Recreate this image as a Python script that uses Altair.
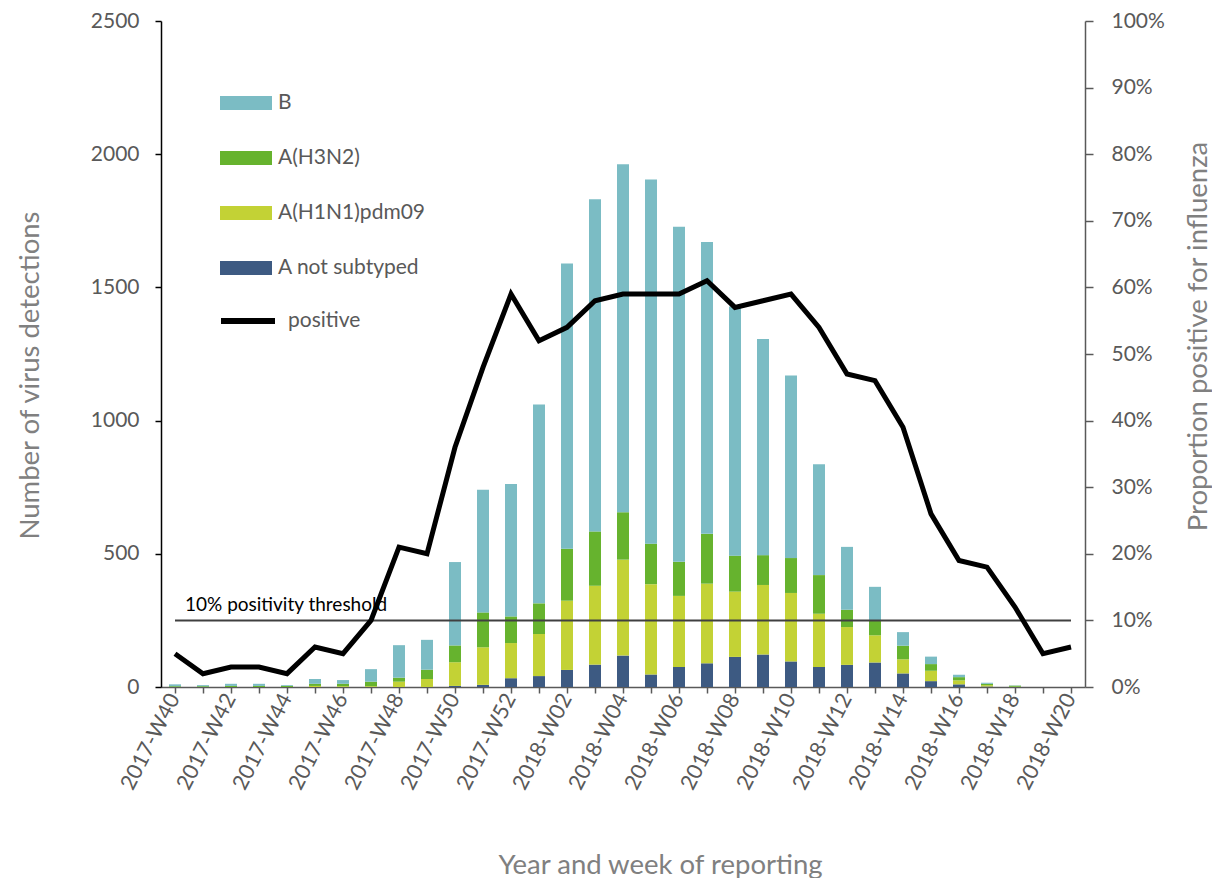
import altair as alt
import pandas as pd

weeks = [
    "2017-W40", "2017-W41", "2017-W42", "2017-W43", "2017-W44", "2017-W45",
    "2017-W46", "2017-W47", "2017-W48", "2017-W49", "2017-W50", "2017-W51",
    "2017-W52", "2018-W01", "2018-W02", "2018-W03", "2018-W04", "2018-W05",
    "2018-W06", "2018-W07", "2018-W08", "2018-W09", "2018-W10", "2018-W11",
    "2018-W12", "2018-W13", "2018-W14", "2018-W15", "2018-W16", "2018-W17",
    "2018-W18", "2018-W19", "2018-W20",
]
a_not_subtyped = [0, 0, 0, 0, 0, 0, 0, 0, 0, 0, 4, 8, 33, 41, 64, 84, 118, 47,
                  75, 89, 113, 122, 96, 75, 83, 92, 51, 22, 10, 2, 0, 0, 0]
a_h1n1pdm09 = [0, 0, 0, 0, 0, 4, 3, 3, 20, 30, 89, 141, 132, 158, 260, 296, 360,
               339, 267, 299, 245, 261, 257, 200, 142, 102, 53, 39, 15, 5, 1, 0, 0]
a_h3n2 = [3, 3, 4, 4, 4, 8, 9, 17, 15, 35, 63, 131, 100, 115, 195, 204, 178, 152,
          128, 187, 135, 112, 131, 145, 65, 55, 51, 25, 12, 5, 4, 0, 0]
b_vals = [7, 4, 8, 8, 3, 18, 14, 47, 122, 112, 313, 460, 497, 746, 1071, 1247,
          1306, 1367, 1258, 1095, 935, 811, 685, 416, 236, 127, 51, 28, 9, 4, 1, 0, 0]
positive_pct = [5, 2, 3, 3, 2, 6, 5, 10, 21, 20, 36, 48, 59, 52, 54, 58, 59, 59,
                59, 61, 57, 58, 59, 54, 47, 46, 39, 26, 19, 18, 12, 5, 6]

series_names = ["A not subtyped", "A(H1N1)pdm09", "A(H3N2)", "B"]
legend_order = ["B", "A(H3N2)", "A(H1N1)pdm09", "A not subtyped"]
legend_colors = ["#7bbcc4", "#66b32e", "#c3d235", "#3d5a82"]
threshold_value = 250
threshold_label = "10% positivity threshold"

rows = []
for i, w in enumerate(weeks):
    for k, (name, vals) in enumerate(zip(series_names,
                                          [a_not_subtyped, a_h1n1pdm09, a_h3n2, b_vals])):
        rows.append({"week": w, "type": name, "count": vals[i], "ord": k})
bars_df = pd.DataFrame(rows)
line_df = pd.DataFrame({"week": weeks,
                        "pos": [p / 100 for p in positive_pct],
                        "series": ["positive"] * len(weeks)})
thr_df = pd.DataFrame({"week": [weeks[0]], "week2": [weeks[-1]],
                       "count": [threshold_value], "label": [threshold_label]})

FONT = "Lato"
GREY = "#595959"
TITLE_GREY = "#808080"

x_enc = alt.X(
    "week:N",
    sort=weeks,
    scale=alt.Scale(domain=weeks, paddingInner=0, paddingOuter=0),
    axis=alt.Axis(
        labelAngle=297,
        labelExpr="parseInt(substring(datum.value, 6)) % 2 == 0 ? datum.value : ''",
        labelFontSize=21.5, labelColor=GREY, labelPadding=2,
        domainColor=GREY, domainWidth=1.5, tickColor=GREY, tickSize=6, tickWidth=1.5,
        title="Year and week of reporting", titleFontSize=27.5, titleColor=TITLE_GREY,
        titleFontWeight="normal", titleX=499, titleY=178,
        titleAlign="center", titleBaseline="middle",
    ),
)

left_axis = alt.Axis(
    values=[0, 500, 1000, 1500, 2000, 2500], format="d",
    labelFontSize=21, labelColor=GREY, labelPadding=16,
    domainColor="black", domainWidth=1.5, tickColor="black", tickSize=6, tickWidth=1.5,
    grid=False,
    title="Number of virus detections", titleFontSize=27.5, titleColor=TITLE_GREY,
    titleFontWeight="normal", titleAngle=270, titleX=-131, titleY=354,
    titleAlign="center", titleBaseline="middle",
)
left_scale = alt.Scale(domain=[0, 2500], nice=False)

bars = alt.Chart(bars_df).mark_bar(size=12).encode(
    x=x_enc,
    y=alt.Y("sum(count):Q", scale=left_scale, axis=left_axis, stack="zero",
            title="Number of virus detections"),
    color=alt.Color(
        "type:N",
        scale=alt.Scale(domain=legend_order, range=legend_colors),
        legend=alt.Legend(
            orient="none", legendX=59, legendY=56, title=None,
            symbolType="M-1,-0.27H1V0.27H-1Z", symbolSize=2704,
            symbolStrokeWidth=0, labelFontSize=21, labelColor=GREY,
            labelOffset=6, rowPadding=19,
        ),
    ),
    order=alt.Order("ord:Q", sort="ascending"),
)

rule = alt.Chart(thr_df).mark_rule(color="#404040", strokeWidth=2).encode(
    x=alt.X("week:N", sort=weeks),
    x2="week2:N",
    y=alt.Y("count:Q", scale=left_scale, axis=left_axis,
            title="Number of virus detections"),
)

txt = alt.Chart(thr_df).mark_text(
    align="left", baseline="alphabetic", dx=10, dy=-9, fontSize=19, color="black"
).encode(
    x=alt.X("week:N", sort=weeks),
    y=alt.Y("count:Q", scale=left_scale, axis=left_axis,
            title="Number of virus detections"),
    text="label:N",
)

left = alt.layer(bars, rule, txt)

line = alt.Chart(line_df).mark_line(strokeWidth=5).encode(
    x=alt.X("week:N", sort=weeks),
    y=alt.Y(
        "pos:Q",
        scale=alt.Scale(domain=[0, 1], nice=False),
        axis=alt.Axis(
            orient="right", values=[i / 10 for i in range(11)], format=".0%",
            labelFontSize=21, labelColor=GREY, labelPadding=18,
            domainColor=GREY, domainWidth=1.5, tickColor=GREY, tickSize=8, tickWidth=1.5,
            grid=False,
            title="Proportion positive for influenza", titleFontSize=27.5,
            titleColor=TITLE_GREY, titleFontWeight="normal", titleAngle=270,
            titleX=113, titleY=315, titleAlign="center", titleBaseline="middle",
        ),
    ),
    stroke=alt.Stroke(
        "series:N",
        scale=alt.Scale(domain=["positive"], range=["black"]),
        legend=alt.Legend(
            orient="none", legendX=57, legendY=270, title=None,
            symbolType="M-1,0H1", symbolSize=2916, symbolStrokeWidth=6,
            symbolStrokeColor="black",
            labelFontSize=21, labelColor=GREY, labelOffset=10,
        ),
    ),
)

chart = alt.layer(left, line).resolve_scale(y="independent", color="independent").properties(
    width=924, height=666,
    autosize=alt.AutoSizeParams(type="none"),
    padding={"left": 153, "top": 13, "right": 127, "bottom": 191},
).configure(font=FONT).configure_view(stroke=None)

chart.save("out.html", embed_options={"renderer": "svg", "actions": False})
